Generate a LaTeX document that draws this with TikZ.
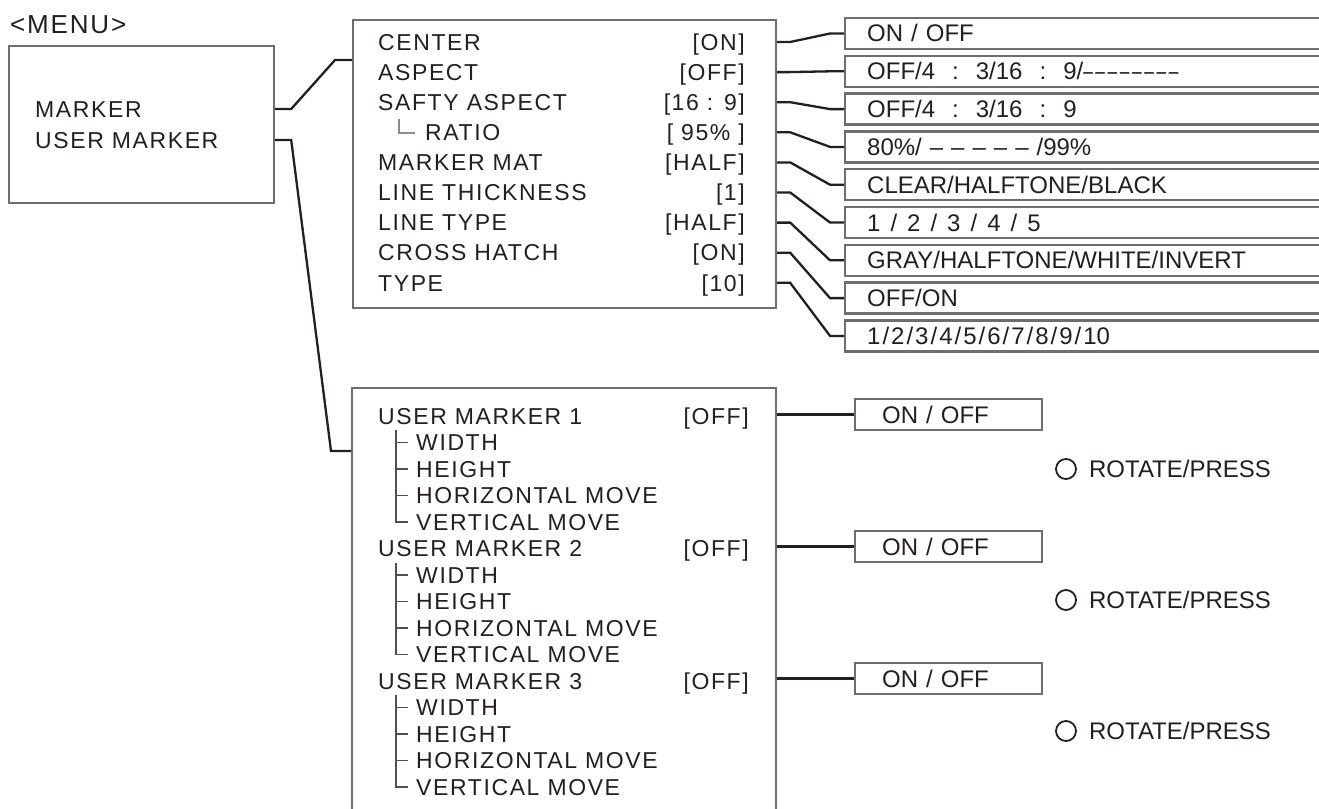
\documentclass[tikz,border=0pt]{standalone}
\usepackage{fontspec}
\setmainfont{Liberation Sans}
\newfontfamily\menufont[LetterSpace=7]{Liberation Sans}
\usetikzlibrary{positioning,calc}
\definecolor{ink}{HTML}{231F20}
\definecolor{boxline}{HTML}{6E6E6E}
\definecolor{treeline}{HTML}{505050}
\definecolor{ratioline}{HTML}{8A8A8A}
\newcommand\dsh{\scalebox{0.72}[1]{--}\kern2.6pt}
\newcommand\dashrun{\dsh\dsh\dsh\dsh\dsh\dsh\dsh\dsh}
\newcommand\colgap{\hspace{17pt}:\hspace{17pt}}
\newcommand\slgap{\hspace{10pt}/\hspace{10pt}}
\newcommand\slnarrow{\kern2pt/\kern2pt}

\begin{document}
\begin{tikzpicture}[x=1pt,y=-1pt,text=ink,font=\fontsize{23}{27}\selectfont\menufont]
\tikzset{frame/.style={draw=boxline,line width=2.2pt,inner sep=0pt,anchor=north west}}
\tikzset{item/.style={inner sep=0pt,text height=16.5pt,text depth=0pt,anchor=west}}
\tikzset{val/.style={item,anchor=east}}
\tikzset{choice/.style={draw=boxline,line width=2.4pt,anchor=west,minimum height=31pt,inner ysep=0pt,inner xsep=22pt,text width=460pt,align=left,text height=17pt,text depth=0pt,font=\fontsize{24}{28}\selectfont\rmfamily}}
\tikzset{onoff/.style={choice,inner xsep=27pt,text width=133pt}}
\tikzset{conn/.style={draw=ink,line width=2.3pt}}
\tikzset{tree/.style={draw=treeline,line width=1.9pt}}
\tikzset{knob/.style={circle,draw=ink,line width=1.8pt,minimum size=20pt,inner sep=0pt}}
\path[use as bounding box,clip] (0,0) rectangle (1319,808);

% menu
\node[item,font=\fontsize{26}{30}\selectfont\menufont] (title) at (10,25) {<MENU>};
\node[frame,minimum width=265pt,minimum height=157pt] (menu) at (8,45) {};
\node[item] (marker) at (35,109) {MARKER};
\node[item] (umarker) at (35,140) {USER MARKER};

% marker settings
\node[frame,minimum width=423pt,minimum height=288pt] (top) at (352,19) {};
\foreach \lab/\set [count=\i] in {CENTER/{[ON]},ASPECT/{[OFF]},SAFTY ASPECT/{[16 : 9]},{\hspace{47pt}RATIO}/{[ 95\% ]},MARKER MAT/{[HALF]},LINE THICKNESS/{[1]},LINE TYPE/{[HALF]},CROSS HATCH/{[ON]},TYPE/{[10]}}{
  \node[item] (mk-\i) at (378,{42+30.1*(\i-1)}) {\lab};
  \node[val] (set-\i) at (745,{42+30.1*(\i-1)}) {\set};
}
\draw[ratioline,line width=1.9pt] ($(mk-4.west)+(21,-13)$) |- ($(mk-4.west)+(37,1)$);

% choices
\foreach \txt [count=\i] in {{ON / OFF},{OFF/4\colgap 3/16\colgap 9/\dashrun},{OFF/4\colgap 3/16\colgap 9},{80\%/ -- -- -- -- -- /99\%},{CLEAR/HALFTONE/BLACK},{1\slgap 2\slgap 3\slgap 4\slgap 5},{GRAY/HALFTONE/WHITE/INVERT},{OFF/ON},{1\slnarrow 2\slnarrow 3\slnarrow 4\slnarrow 5\slnarrow 6\slnarrow 7\slnarrow 8\slnarrow 9\slnarrow 10}}{
  \node[choice] (opt-\i) at (844,{33.5+37.8*(\i-1)}) {\txt};
  \draw[conn] (top.east |- set-\i) -- ++(13,0) -- ($(opt-\i.west)+(-14,0)$) -- (opt-\i.west);
}

% user markers
\node[frame,minimum width=424pt,minimum height=450pt] (low) at (351,387) {};
\coordinate (top-in) at ($(top.north west)+(0,41)$);
\coordinate (low-in) at ($(low.north west)+(0,64)$);
\draw[conn] (menu.east |- marker) -- ++(16,0) -- ($(top-in)+(-17,0)$) -- (top-in);
\draw[conn] (menu.east |- umarker) -- ++(16,0) -- ($(low-in)+(-20,0)$) -- (low-in);
\foreach \k in {1,2,3}{
  \node[item] (um-\k) at (378,{416+132.5*(\k-1)}) {USER MARKER \k};
  \node[val] (um-set-\k) at (749,{416+132.5*(\k-1)}) {[OFF]};
  \foreach \sub [count=\j] in {WIDTH,HEIGHT,HORIZONTAL MOVE,VERTICAL MOVE}
    \node[item] (sub-\k-\j) at (416,{416+132.5*(\k-1)+26.5*\j}) {\sub};
  \draw[tree] ($(um-\k.west)+(18,14)$) |- ($(sub-\k-4.west)+(-8,0)$);
  \foreach \j in {1,2,3}
    \draw[tree] ($(sub-\k-\j.west)+(-20,0)$) -- ++(12,0);
  \node[onoff] (oo-\k) at (854,{414.5+132*(\k-1)}) {ON / OFF};
  \draw[conn] (low.east |- oo-\k) -- (oo-\k.west);
  \node[knob] (knob-\k) at (1066,{469+131*(\k-1)}) {};
  \node[item,font=\fontsize{24}{28}\selectfont\rmfamily,right=12pt of knob-\k] (rot-\k) {ROTATE/PRESS};
}
\end{tikzpicture}
\end{document}
